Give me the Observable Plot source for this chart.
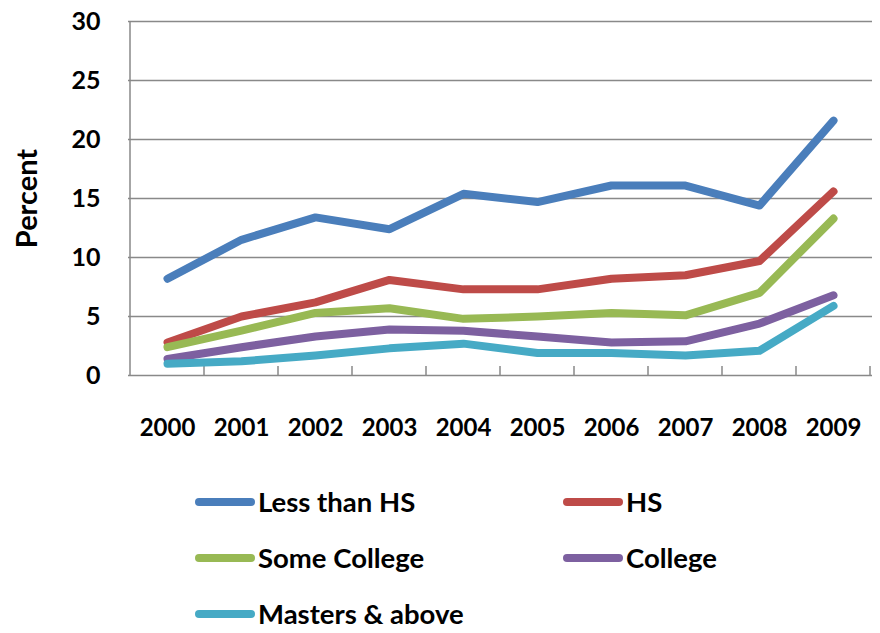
<!DOCTYPE html>
<html>
<head>
<meta charset="utf-8">
<script src="https://cdn.jsdelivr.net/npm/d3@7"></script>
<script src="https://cdn.jsdelivr.net/npm/@observablehq/plot@0.6"></script>
<style>
  html, body { margin: 0; padding: 0; background: #fff; }
  #wrap { position: relative; width: 880px; height: 633px; font-family: Lato, "Open Sans", sans-serif; }
  #legend { position: absolute; left: 195px; top: 488px; display: grid; grid-template-columns: 368px auto; grid-auto-rows: 28px; row-gap: 28px; }
  .item { display: flex; align-items: center; height: 28px; font-weight: 700; font-size: 27.5px; line-height: 28px; color: #000; white-space: nowrap; }
  .sw { width: 60px; height: 8px; border-radius: 4px; margin-right: 3px; }
</style>
</head>
<body>
<div id="wrap">
  <div id="chart"></div>
  <div id="legend"></div>
</div>
<script>
const years = [2000, 2001, 2002, 2003, 2004, 2005, 2006, 2007, 2008, 2009];
const lessThanHS  = [8.2, 11.5, 13.4, 12.4, 15.4, 14.7, 16.1, 16.1, 14.4, 21.6];
const hs          = [2.8, 5.0, 6.2, 8.1, 7.3, 7.3, 8.2, 8.5, 9.7, 15.6];
const someCollege = [2.4, 3.8, 5.3, 5.7, 4.8, 5.0, 5.3, 5.1, 7.0, 13.3];
const college     = [1.4, 2.4, 3.3, 3.9, 3.8, 3.3, 2.8, 2.9, 4.4, 6.8];
const masters     = [1.0, 1.2, 1.7, 2.3, 2.7, 1.9, 1.9, 1.7, 2.1, 5.9];
const seriesNames = ["Less than HS", "HS", "Some College", "College", "Masters & above"];
const seriesColors = ["#4a7ebb", "#be4b48", "#98b954", "#7d60a0", "#46aac5"];
const yTicks = [0, 5, 10, 15, 20, 25, 30];
const yLabel = "Percent";

const seriesValues = [lessThanHS, hs, someCollege, college, masters];
const axisColor = "#898989";

// structural axis lines and inside tick marks, positioned through the scales
function axisFrame(index, scales, values, dimensions) {
  const x = scales.x, y = scales.y;
  const step = x(years[1]) - x(years[0]);
  const left = x(years[0]) - step / 2;
  const y0 = y(0), yTop = y(30);
  const g = d3.create("svg:g").attr("stroke", axisColor).attr("stroke-width", 1.5).attr("fill", "none");
  g.append("line").attr("x1", left).attr("x2", left).attr("y1", yTop).attr("y2", y0);
  const bounds = years.map(v => x(v) + step / 2);
  for (const b of bounds) g.append("line").attr("x1", b).attr("x2", b).attr("y1", y0 - 9).attr("y2", y0);
  return g.node();
}

const lineMarks = seriesValues.map((vals, i) =>
  Plot.line(years.map((yr, j) => ({year: yr, value: vals[j]})), {
    x: "year", y: "value", stroke: seriesColors[i], strokeWidth: 8,
    strokeLinecap: "round", strokeLinejoin: "round"
  })
);

const chart = Plot.plot({
  width: 880,
  height: 470,
  marginLeft: 128,
  marginRight: 8,
  marginTop: 21,
  marginBottom: 95,
  style: { fontFamily: "Lato, 'Open Sans', sans-serif", background: "#fff" },
  x: { type: "point", domain: years, padding: 0.5 },
  y: { domain: [0, 30] },
  marks: [
    Plot.ruleY(yTicks, { stroke: axisColor, strokeWidth: 1.5 }),
    axisFrame,
    Plot.axisX({ tickSize: 0, tickPadding: 43, fontSize: 24, fontWeight: "bold", fill: "#000", label: null, tickFormat: d => String(d) }),
    Plot.axisY(yTicks, { tickSize: 0, tickPadding: 28, fontSize: 25, fontWeight: "bold", fill: "#000", label: null }),
    Plot.text([yLabel], { frameAnchor: "left", textAnchor: "middle", dx: -101, rotate: -90, fontSize: 29, fontWeight: "bold", fill: "#000" }),
    ...lineMarks
  ]
});
document.getElementById("chart").appendChild(chart);

const legend = document.getElementById("legend");
seriesNames.forEach((name, i) => {
  const item = document.createElement("div");
  item.className = "item";
  const sw = document.createElement("span");
  sw.className = "sw";
  sw.style.background = seriesColors[i];
  item.appendChild(sw);
  item.appendChild(document.createTextNode(name));
  legend.appendChild(item);
});
</script>
</body>
</html>
